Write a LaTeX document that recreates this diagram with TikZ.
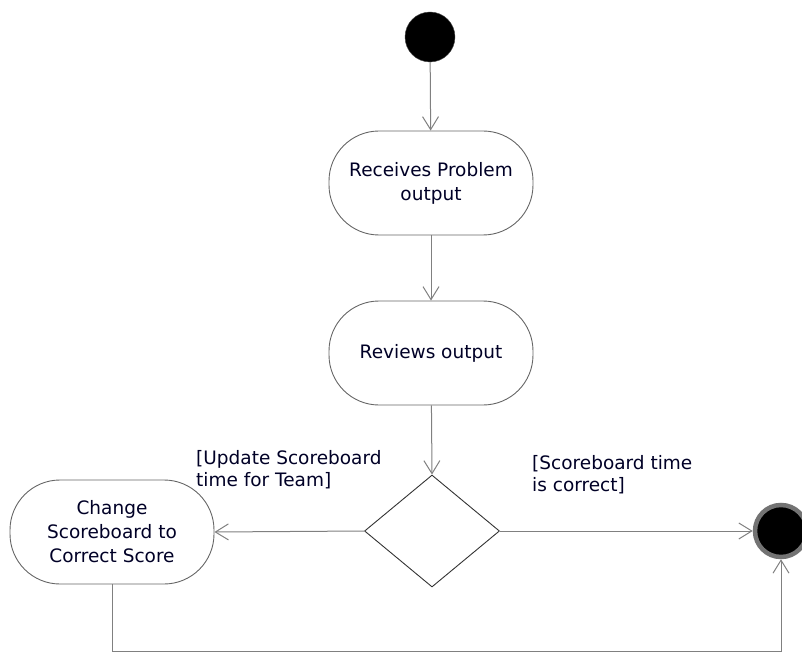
\documentclass[tikz,border=0pt]{standalone}
\usepackage{fontspec}
\setmainfont{DejaVu Sans}
\usetikzlibrary{shapes.geometric,arrows.meta}
\begin{document}
\begin{tikzpicture}[x=1pt,y=-1pt,
  action/.style={draw=black!60, line width=0.9pt, rounded corners=50pt,
    minimum width=204pt, minimum height=104pt, align=center,
    font=\fontsize{18.5}{24}\selectfont, text=black!85!blue},
  flow/.style={draw=black!50, line width=1pt,
    -{Straight Barb[length=13pt,width=16pt,line width=1pt]}},
  guard/.style={align=left, font=\fontsize{18.5}{22}\selectfont,
    text=black!85!blue, anchor=north west, inner sep=0pt}]
  \useasboundingbox (0,0) rectangle (802,652);

  % start and end
  \node (start) [circle, fill=black, draw=black!70, minimum size=50pt, inner sep=0pt] at (430,37) {};
  \node (final) [circle, fill=black, draw=black!55, line width=4.5pt, minimum size=52pt, inner sep=0pt] at (781,531) {};

  % actions
  \node (recv) [action] at (431,183) {Receives Problem\\output};
  \node (review) [action] at (431,353) {Reviews output};
  \node (change) [action] at (112,532) {Change\\Scoreboard to\\Correct Score};

  % decision
  \node (dec) [diamond, draw=black!80, line width=0.9pt, minimum width=135pt,
    minimum height=112pt, inner sep=0pt] at (432,531) {};

  % guards
  \node (g1) [guard] at (196,450) {[Update Scoreboard\\time for Team]};
  \node (g2) [guard] at (532,455) {[Scoreboard time\\is correct]};

  % flows
  \draw[flow] (start) -- (recv);
  \draw[flow] (recv) -- (review);
  \draw[flow] (review) -- (dec.north);
  \draw[flow] (dec.west) -- (change.east);
  \draw[flow] (dec.east) -- (final.west);
  \coordinate (c1) at (112,651);
  \coordinate (c2) at (781,651);
  \draw[flow] (change.south) -- (c1) -- (c2) -- (final.south);
\end{tikzpicture}
\end{document}
